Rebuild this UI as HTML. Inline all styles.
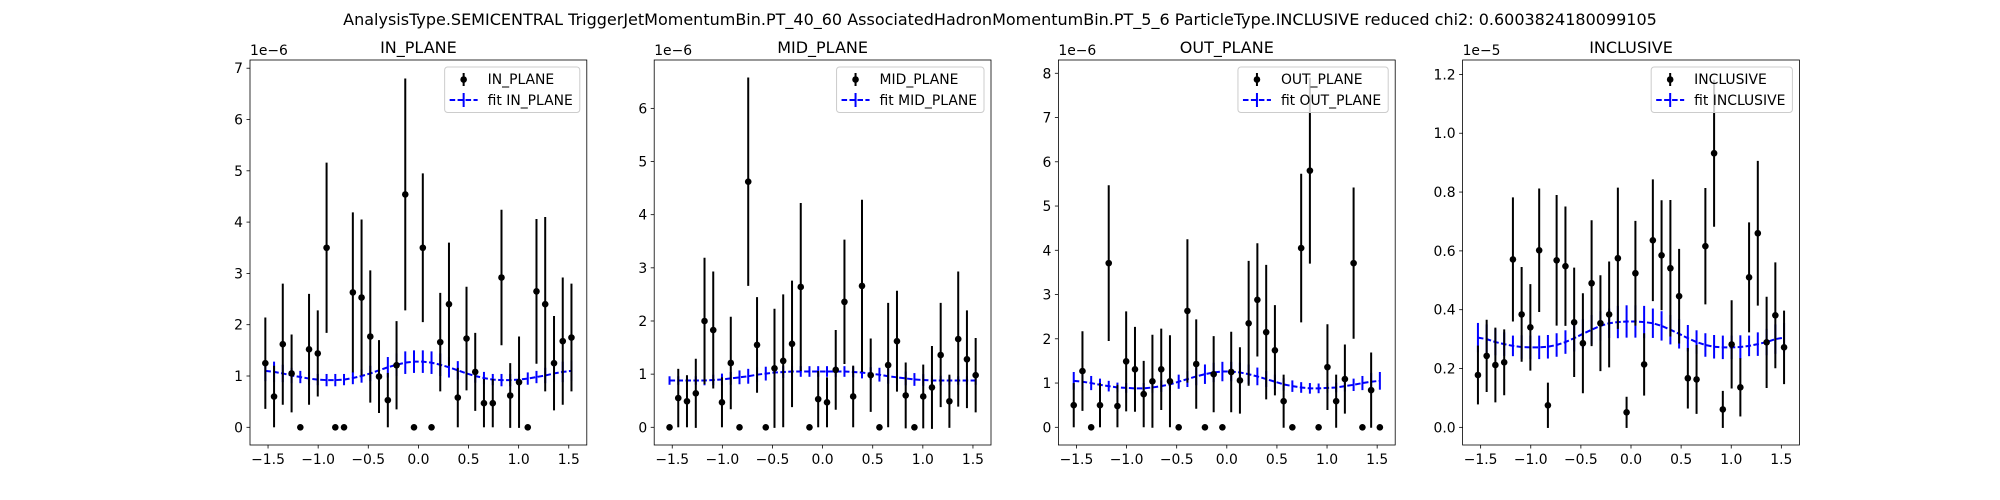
<!DOCTYPE html>
<html><head><meta charset="utf-8"><style>
html,body{margin:0;padding:0;background:#fff;}
svg{display:block;font-family:"DejaVu Sans","Liberation Sans",sans-serif;}
</style></head><body>
<svg id="fig" width="2000" height="500" viewBox="0 0 2000 500" xmlns="http://www.w3.org/2000/svg">
<rect x="0" y="0" width="2000" height="500" fill="#fff"/>
<text x="1000" y="25" font-size="16" text-anchor="middle" fill="#000">AnalysisType.SEMICENTRAL TriggerJetMomentumBin.PT_40_60 AssociatedHadronMomentumBin.PT_5_6 ParticleType.INCLUSIVE reduced chi2: 0.6003824180099105</text>
</svg>
<script>
const xCenters = [-1.527,-1.440,-1.353,-1.265,-1.178,-1.091,-1.004,-0.916,-0.829,-0.742,-0.654,-0.567,-0.480,-0.393,-0.305,-0.218,-0.131,-0.044,0.044,0.131,0.218,0.305,0.393,0.480,0.567,0.654,0.742,0.829,0.916,1.004,1.091,1.178,1.265,1.353,1.440,1.527];

const inVals = [1.25,0.6,1.62,1.05,0,1.52,1.44,3.5,0,0,2.63,2.53,1.77,0.99,0.53,1.21,4.54,0,3.5,0,1.66,2.4,0.58,1.73,1.08,0.47,0.47,2.92,0.62,0.88,0,2.65,2.4,1.25,1.68,1.75];
const inErrs = [0.89,0.6,1.18,0.76,0,1.08,0.84,1.66,0,0,1.56,1.52,1.29,0.71,0.53,0.86,2.26,0,1.45,0,0.96,1.2,0.58,1.01,0.76,0.47,0.47,1.32,0.63,0.89,0,1.41,1.7,0.92,1.24,1.05];
const inFit = [1.10,1.08,1.05,1.01,0.98,0.95,0.93,0.92,0.92,0.93,0.96,1.00,1.05,1.11,1.17,1.22,1.26,1.28,1.28,1.26,1.22,1.17,1.11,1.05,1.00,0.96,0.93,0.92,0.92,0.93,0.95,0.98,1.01,1.05,1.08,1.10];
const inFitErr = [0.2,0.2,0.17,0.15,0.12,0.12,0.11,0.12,0.12,0.11,0.12,0.13,0.15,0.18,0.2,0.22,0.22,0.22,0.22,0.22,0.22,0.2,0.18,0.15,0.13,0.12,0.11,0.12,0.12,0.11,0.12,0.12,0.15,0.17,0.2,0.2];

const midVals = [0,0.55,0.49,0.64,2.0,1.83,0.47,1.21,0,4.62,1.55,0,1.11,1.25,1.57,2.64,0,0.53,0.47,1.08,2.36,0.58,2.66,0.98,0,1.17,1.62,0.6,0,0.58,0.75,1.36,0.49,1.66,1.28,0.98];
const midErrs = [0,0.55,0.49,0.65,1.19,1.1,0.47,0.87,0,1.96,0.9,0,1.12,1.25,1.19,1.58,0,0.53,0.47,0.75,1.17,0.58,1.62,0.69,0,1.17,0.95,0.62,0,0.6,0.78,0.98,0.5,1.27,0.92,0.7];
const midFit = [0.88,0.88,0.88,0.88,0.88,0.89,0.90,0.92,0.94,0.96,0.99,1.01,1.03,1.04,1.05,1.05,1.05,1.05,1.05,1.05,1.05,1.04,1.03,1.01,0.99,0.96,0.94,0.92,0.90,0.89,0.88,0.88,0.88,0.88,0.88,0.88];
const midFitErr = [0.08,0.08,0.08,0.08,0.09,0.1,0.11,0.12,0.13,0.14,0.14,0.13,0.12,0.11,0.1,0.1,0.1,0.1,0.1,0.1,0.1,0.1,0.11,0.12,0.13,0.14,0.14,0.13,0.12,0.11,0.1,0.09,0.08,0.08,0.08,0.08];

const outVals = [0.5,1.27,0,0.5,3.71,0.48,1.49,1.31,0.75,1.04,1.31,1.04,0,2.63,1.43,0,1.2,0,1.25,1.06,2.35,2.88,2.15,1.74,0.59,0,4.05,5.8,0,1.36,0.59,1.09,3.71,0,0.84,0];
const outErrs = [0.5,0.9,0,0.5,1.76,0.48,1.13,0.96,0.75,1.05,0.92,1.04,0,1.62,1.01,0,0.86,0,0.91,0.75,1.41,1.28,1.52,1.02,0.6,0,1.68,2.1,0,0.97,0.6,0.78,1.71,0,0.85,0];
const outFit = [1.05,1.03,1.00,0.96,0.93,0.90,0.89,0.88,0.88,0.90,0.93,0.97,1.03,1.09,1.15,1.20,1.24,1.26,1.26,1.24,1.20,1.15,1.09,1.03,0.97,0.93,0.90,0.88,0.88,0.89,0.90,0.93,0.96,1.00,1.03,1.05];
const outFitErr = [0.2,0.2,0.16,0.14,0.12,0.11,0.11,0.11,0.12,0.12,0.13,0.14,0.16,0.18,0.2,0.22,0.22,0.22,0.22,0.22,0.22,0.2,0.18,0.16,0.14,0.13,0.12,0.12,0.11,0.11,0.11,0.12,0.14,0.16,0.2,0.2];

const incVals = [0.178,0.243,0.212,0.221,0.571,0.384,0.34,0.602,0.075,0.568,0.548,0.357,0.286,0.49,0.354,0.384,0.575,0.051,0.524,0.214,0.636,0.585,0.541,0.446,0.167,0.163,0.616,0.932,0.061,0.282,0.136,0.51,0.66,0.289,0.381,0.272];
const incErrs = [0.1,0.123,0.127,0.112,0.211,0.161,0.147,0.21,0.077,0.222,0.203,0.186,0.17,0.214,0.163,0.18,0.24,0.053,0.178,0.106,0.207,0.187,0.232,0.161,0.103,0.117,0.198,0.25,0.063,0.15,0.099,0.187,0.246,0.155,0.18,0.125];
const incFit = [0.305,0.300,0.290,0.283,0.277,0.273,0.272,0.272,0.274,0.280,0.290,0.303,0.318,0.332,0.345,0.354,0.358,0.360,0.360,0.358,0.354,0.345,0.332,0.318,0.303,0.290,0.280,0.274,0.272,0.272,0.273,0.277,0.283,0.290,0.300,0.305];
const incFitErr = [0.05,0.05,0.045,0.04,0.035,0.04,0.04,0.04,0.04,0.04,0.04,0.045,0.05,0.05,0.05,0.05,0.055,0.055,0.055,0.055,0.05,0.05,0.05,0.05,0.045,0.04,0.04,0.04,0.04,0.04,0.04,0.035,0.04,0.045,0.05,0.05];

const xTicks = [-1.5,-1.0,-0.5,0.0,0.5,1.0,1.5];
const xTickLabels = ["\u22121.5","\u22121.0","\u22120.5","0.0","0.5","1.0","1.5"];
const yTicksIn = [0,1,2,3,4,5,6,7];
const yTicksMid = [0,1,2,3,4,5,6];
const yTicksOut = [0,1,2,3,4,5,6,7,8];
const yTicksInc = [0,0.2,0.4,0.6,0.8,1.0,1.2];
const yTickLabelsInc = ["0.0","0.2","0.4","0.6","0.8","1.0","1.2"];

const NS = "http://www.w3.org/2000/svg";
const svg = document.getElementById('fig');
function mk(tag, attrs, parent){const e=document.createElementNS(NS,tag);for(const k in attrs)e.setAttribute(k,attrs[k]);(parent||svg).appendChild(e);return e;}

const panels = [
 {key:'in-plane', title:'IN_PLANE', L:250, ylo:-0.345, yhi:7.16, yt:yTicksIn, ytl:null, exp:'1e\u22126', v:inVals, e:inErrs, f:inFit, fe:inFitErr},
 {key:'mid-plane', title:'MID_PLANE', L:654.2, ylo:-0.333, yhi:6.91, yt:yTicksMid, ytl:null, exp:'1e\u22126', v:midVals, e:midErrs, f:midFit, fe:midFitErr},
 {key:'out-plane', title:'OUT_PLANE', L:1058.4, ylo:-0.4, yhi:8.3, yt:yTicksOut, ytl:null, exp:'1e\u22126', v:outVals, e:outErrs, f:outFit, fe:outFitErr},
 {key:'inclusive', title:'INCLUSIVE', L:1462.6, ylo:-0.06, yhi:1.249, yt:yTicksInc, ytl:yTickLabelsInc, exp:'1e\u22125', v:incVals, e:incErrs, f:incFit, fe:incFitErr}
];
const W=336.8, T=60, B=445, XMIN=-1.68, XMAX=1.68;

panels.forEach(p=>{
  const sx = x => p.L + (x-XMIN)/(XMAX-XMIN)*W;
  const sy = y => B - (y-p.ylo)/(p.yhi-p.ylo)*(B-T);
  const g = mk('g',{});
  
  
  const t = mk('text',{x:p.L+W/2,y:53,'font-size':16,'text-anchor':'middle',fill:'#000'},g);
  t.textContent=p.title;
  
  
  const ex = mk('text',{x:p.L,y:55,'font-size':13.9,fill:'#000'},g);
  ex.textContent=p.exp;
  
  
  const xa = mk('g',{},g);
  
  
  xTicks.forEach((v,i)=>{
    const X=sx(v);
    mk('line',{x1:X,x2:X,y1:B,y2:B+3.5,stroke:'#000','stroke-width':0.8},xa);
    const tl=mk('text',{x:X,y:B+19,'font-size':13.9,'text-anchor':'middle',fill:'#000'},xa);
    tl.textContent=xTickLabels[i];
  });
  const ya = mk('g',{},g);
  
  
  p.yt.forEach((v,i)=>{
    const Y=sy(v);
    mk('line',{x1:p.L-3.5,x2:p.L,y1:Y,y2:Y,stroke:'#000','stroke-width':0.8},ya);
    const tl=mk('text',{x:p.L-7,y:Y+5,'font-size':13.9,'text-anchor':'end',fill:'#000'},ya);
    tl.textContent=p.ytl?p.ytl[i]:String(v);
  });
  const fg = mk('g',{},g);
  
  
  let d='';
  xCenters.forEach((x,i)=>{d+=(i?'L':'M')+sx(x).toFixed(2)+' '+sy(p.f[i]).toFixed(2);});
  xCenters.forEach((x,i)=>{
    const b=mk('line',{x1:sx(x),x2:sx(x),y1:sy(p.f[i]-p.fe[i]),y2:sy(p.f[i]+p.fe[i]),stroke:'#0000ff','stroke-width':2},fg);
    
    
  });
  const fl=mk('path',{d:d,fill:'none',stroke:'#0000ff','stroke-width':2,'stroke-dasharray':'5.55 2.4'},fg);
  
  
  const dg = mk('g',{},g);
  
  
  xCenters.forEach((x,i)=>{
    if(p.e[i]>0){
      const b=mk('line',{x1:sx(x),x2:sx(x),y1:sy(p.v[i]-p.e[i]),y2:sy(p.v[i]+p.e[i]),stroke:'#000','stroke-width':2},dg);
      
      
    }
    const c=mk('circle',{cx:sx(x),cy:sy(p.v[i]),r:3.3,fill:'#000'},dg);
    
    
  });
  const fr=mk('rect',{x:p.L,y:T,width:W,height:B-T,fill:'none',stroke:'#000','stroke-width':0.8},g);
  
  
  const lg = mk('g',{},g);
  
  
  const box = mk('rect',{x:0,y:67,width:10,height:45.5,rx:3,fill:'#fff','fill-opacity':0.8,stroke:'#ccc','stroke-width':1},lg);
  const t1 = mk('text',{x:0,y:84,'font-size':13.9,fill:'#000'},lg); t1.textContent=p.title;
  
  
  const t2 = mk('text',{x:0,y:105,'font-size':13.9,fill:'#000'},lg); t2.textContent='fit '+p.title;
  
  
  const tw = Math.max(t1.getComputedTextLength(), t2.getComputedTextLength());
  const bw = tw+50, bx = p.L+W-7-bw;
  box.setAttribute('x',bx); box.setAttribute('width',bw);
  t1.setAttribute('x',bx+43); t2.setAttribute('x',bx+43);
  const hx = bx+19;
  mk('line',{x1:hx,x2:hx,y1:73,y2:86,stroke:'#000','stroke-width':2},lg);
  mk('circle',{cx:hx,cy:79.5,r:3.3,fill:'#000'},lg);
  mk('line',{x1:bx+5,x2:bx+33,y1:100,y2:100,stroke:'#0000ff','stroke-width':2,'stroke-dasharray':'5.55 2.4'},lg);
  mk('line',{x1:hx,x2:hx,y1:93,y2:107,stroke:'#0000ff','stroke-width':2},lg);
});
</script>
</body></html>
